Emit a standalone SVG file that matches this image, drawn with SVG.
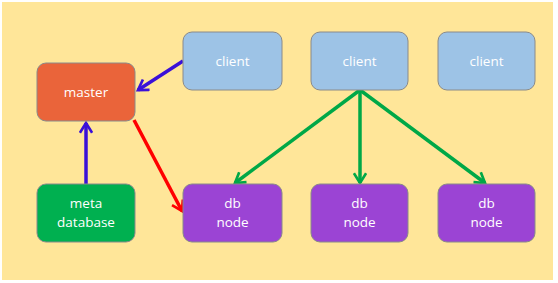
<svg xmlns="http://www.w3.org/2000/svg" width="558" height="283" viewBox="0 0 558 283">
<style>
.box{stroke:#8a8a8a;stroke-width:1}
.t{font-family:"Open Sans","Liberation Sans",sans-serif;font-size:13.5px;fill:#ffffff;text-anchor:middle}
.c{fill:#9dc3e6}
.d{fill:#9b44d4}
.e{fill:none;stroke-width:3.5}
</style>
<defs>
<marker id="mb" viewBox="0 0 12 12" refX="10" refY="6" markerWidth="4.2" markerHeight="4.2" orient="auto" markerUnits="strokeWidth"><path d="M2,1 L10,6 L2,11" fill="none" stroke="#3a10d8" stroke-width="2.2"/></marker>
<marker id="mr" viewBox="0 0 12 12" refX="10" refY="6" markerWidth="4.2" markerHeight="4.2" orient="auto" markerUnits="strokeWidth"><path d="M2,1 L10,6 L2,11" fill="none" stroke="#ff0000" stroke-width="2.2"/></marker>
<marker id="mg" viewBox="0 0 12 12" refX="10" refY="6" markerWidth="4.2" markerHeight="4.2" orient="auto" markerUnits="strokeWidth"><path d="M2,1 L10,6 L2,11" fill="none" stroke="#00a847" stroke-width="2.2"/></marker>
</defs>
<rect x="0" y="0" width="558" height="283" fill="#ffffff"/>
<rect x="2" y="2" width="551" height="278" fill="#ffe699"/>
<g id="edges">
<line class="e" x1="183" y1="61" x2="138" y2="90" stroke="#3a10d8" marker-end="url(#mb)"/>
<line class="e" x1="86" y1="184" x2="86" y2="123" stroke="#3a10d8" marker-end="url(#mb)"/>
<line class="e" x1="134" y1="120" x2="182" y2="211" stroke="#ff0000" marker-end="url(#mr)"/>
<line class="e" x1="360" y1="90" x2="235" y2="183" stroke="#00a847" marker-end="url(#mg)"/>
<line class="e" x1="360" y1="90" x2="360" y2="183" stroke="#00a847" marker-end="url(#mg)"/>
<line class="e" x1="360" y1="90" x2="485" y2="183" stroke="#00a847" marker-end="url(#mg)"/>
</g>
<g id="master"><rect class="box" x="37" y="63" width="98" height="58" rx="9" fill="#ea643a"/><text class="t" x="86" y="97">master</text></g>
<g id="client1"><rect class="box c" x="183" y="32" width="99" height="58" rx="9"/><text class="t" x="232.5" y="66">client</text></g>
<g id="client2"><rect class="box c" x="311" y="32" width="97" height="58" rx="9"/><text class="t" x="359.5" y="66">client</text></g>
<g id="client3"><rect class="box c" x="438" y="32" width="97" height="58" rx="9"/><text class="t" x="486.5" y="66">client</text></g>
<g id="metadb"><rect class="box" x="37" y="184" width="98" height="58" rx="9" fill="#00b050"/><text class="t" x="86" y="208">meta</text><text class="t" x="86" y="227">database</text></g>
<g id="dbnode1"><rect class="box d" x="183" y="184" width="99" height="58" rx="9"/><text class="t" x="232.5" y="208">db</text><text class="t" x="232.5" y="227">node</text></g>
<g id="dbnode2"><rect class="box d" x="311" y="184" width="97" height="58" rx="9"/><text class="t" x="359.5" y="208">db</text><text class="t" x="359.5" y="227">node</text></g>
<g id="dbnode3"><rect class="box d" x="438" y="184" width="97" height="58" rx="9"/><text class="t" x="486.5" y="208">db</text><text class="t" x="486.5" y="227">node</text></g>
</svg>
